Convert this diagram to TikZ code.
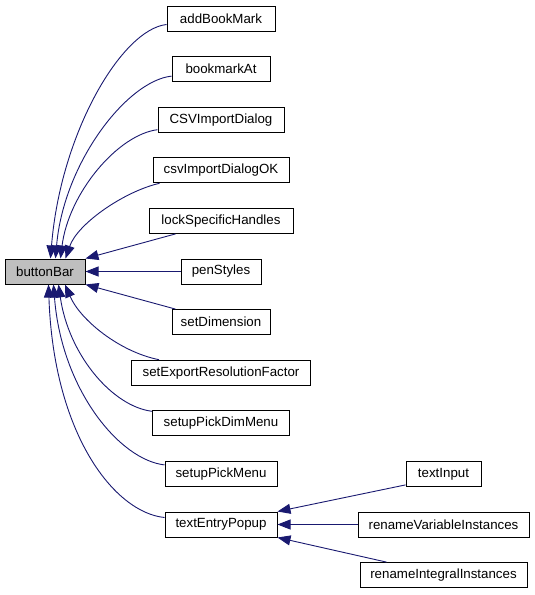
\documentclass[tikz,border=0pt]{standalone}
\usepackage{fontspec}
\setmainfont{Liberation Sans}
\usetikzlibrary{arrows.meta}
\definecolor{edgeblue}{HTML}{191970}
\definecolor{bbgray}{HTML}{BFBFBF}
\begin{document}
\begin{tikzpicture}[x=1pt,y=-1pt,
  fn/.style={draw=black,line width=1pt,fill=white,minimum height=25pt,inner sep=0pt,font=\fontsize{13.3}{16}\selectfont},
  cur/.style={fn,fill=bbgray},
  ed/.style={draw=edgeblue,line width=0.9pt,{Triangle[length=13pt,width=10pt]}-}]
\useasboundingbox (0,0) rectangle (535,595);
\node[cur,minimum width=80pt] (bb) at (45,271.5) {buttonBar};
\node[fn,minimum width=108pt] (abm) at (221,18.5) {addBookMark};
\node[fn,minimum width=98pt] (bma) at (221,69.1) {bookmarkAt};
\node[fn,minimum width=126pt] (csvd) at (221,119.7) {CSVImportDialog};
\node[fn,minimum width=136pt] (csvok) at (221,170.3) {csvImportDialogOK};
\node[fn,minimum width=144pt] (lsh) at (221,220.9) {lockSpecificHandles};
\node[fn,minimum width=80pt] (pen) at (221,271.5) {penStyles};
\node[fn,minimum width=98pt] (sd) at (221,322.1) {setDimension};
\node[fn,minimum width=179pt] (serf) at (221,372.7) {setExportResolutionFactor};
\node[fn,minimum width=137pt] (spdm) at (221,423.3) {setupPickDimMenu};
\node[fn,minimum width=112pt] (spm) at (221,473.9) {setupPickMenu};
\node[fn,minimum width=112pt] (tep) at (221,524.5) {textEntryPopup};
\node[fn,minimum width=75pt] (ti) at (443.5,473.9) {textInput};
\node[fn,minimum width=171pt] (rvi) at (443.5,524.5) {renameVariableInstances};
\node[fn,minimum width=167pt] (rii) at (443.5,575.1) {renameIntegralInstances};
% upper callers
\draw[ed] ([xshift=5.5pt]bb.north) .. controls +(10,-125) and +(-45,5) .. ([yshift=-6pt]abm.west);
\draw[ed] ([xshift=10.5pt]bb.north) .. controls +(8,-95) and +(-45,5) .. ([yshift=-7pt]bma.west);
\draw[ed] ([xshift=15.5pt]bb.north) .. controls +(8,-65) and +(-40,5) .. ([yshift=-10pt]csvd.west);
\draw[ed] ([xshift=20.5pt]bb.north) .. controls +(12,-35) and +(-35,8) .. ([xshift=7pt]csvok.south west);
\draw[ed] (bb.north east) -- ([xshift=27pt]lsh.south west);
\draw[ed] (bb.east) -- (pen.west);
% lower callers
\draw[ed] (bb.south east) -- ([xshift=4pt]sd.north west);
\draw[ed] ([xshift=20pt]bb.south) .. controls +(15,35) and +(-40,-8) .. ([xshift=28pt]serf.north west);
\draw[ed] ([xshift=13.5pt]bb.south) .. controls +(10,70) and +(-40,-5) .. ([yshift=-1pt]spdm.north west);
\draw[ed] ([xshift=8.5pt]bb.south) .. controls +(8,105) and +(-45,-5) .. ([yshift=-4pt]spm.north west);
\draw[ed] ([xshift=3.5pt]bb.south) .. controls +(5,150) and +(-50,-5) .. ([yshift=-6pt]tep.north west);
% textEntryPopup callers
\draw[ed] (tep.north east) -- ([yshift=2pt]ti.south west);
\draw[ed] (tep.east) -- (rvi.west);
\draw[ed] (tep.south east) -- ([xshift=27pt]rii.north west);
\end{tikzpicture}
\end{document}
